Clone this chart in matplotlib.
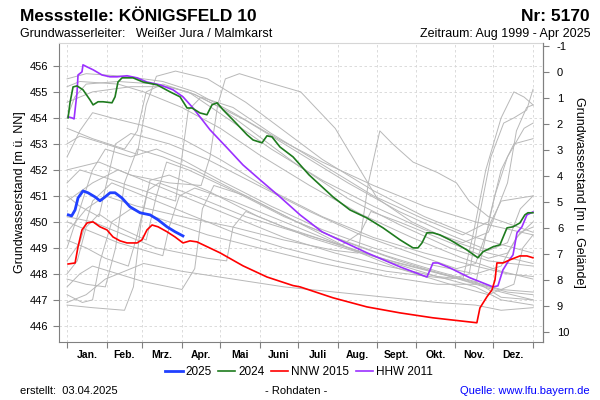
import matplotlib
matplotlib.use('Agg')
import matplotlib.pyplot as plt

plt.rcParams['font.family'] = ['Liberation Sans', 'DejaVu Sans']
plt.rcParams['axes.unicode_minus'] = False

# --- data (day of year, water level m u. NN) ---
months = ['Jan.', 'Feb.', 'Mrz.', 'Apr.', 'Mai', 'Juni', 'Juli', 'Aug.', 'Sept.', 'Okt.', 'Nov.', 'Dez.']
month_start = [0, 31, 59, 90, 120, 151, 181, 212, 243, 273, 304, 334, 365]
ground = 455.77  # Gelaendehoehe
level_ticks = [446, 447, 448, 449, 450, 451, 452, 453, 454, 455, 456]
depth_ticks = [-1, 0, 1, 2, 3, 4, 5, 6, 7, 8, 9, 10]

day_2025 = [1, 3.6, 6.3, 8.6, 12.5, 16.4, 21.9, 25.8, 29.8, 33.7, 37.6, 43, 49.3, 57.2, 65, 71.3, 78.3, 84.6, 90.8]
lev_2025 = [450.27, 450.23, 450.46, 450.92, 451.19, 451.12, 450.96, 450.81, 450.96, 451.12, 451.12, 450.92,
            450.58, 450.35, 450.27, 450.08, 449.81, 449.62, 449.46]

day_2024 = [0.8, 2.3, 4.7, 7.8, 12.5, 18, 20.4, 24.3, 28.2, 35.2, 37.6, 39.9, 43.1, 51.7, 59.5, 70.5, 80.7, 88.5,
            94, 97.9, 104.1, 109.6, 113.5, 117.5, 122.2, 130, 141, 145.7, 152.7, 156.6, 160.5, 166.8, 177, 189.5,
            208.3, 221.6, 234.9, 247.5, 260.8, 271, 274.9, 278, 281.9, 286.6, 292, 299.9, 313.2, 321.8, 325.8,
            333.6, 339.1, 344.6, 349.3, 354.7, 358.6, 361, 364.9]
lev_2024 = [454.0, 454.58, 455.19, 455.23, 455.08, 454.69, 454.5, 454.62, 454.62, 454.58, 454.81, 455.38, 455.54,
            455.54, 455.38, 455.27, 455.0, 454.81, 454.38, 454.38, 454.19, 454.12, 454.5, 454.58, 454.31, 453.92,
            453.35, 453.15, 453.04, 453.31, 453.27, 452.88, 452.5, 451.81, 450.96, 450.46, 450.15, 449.77, 449.31,
            449.0, 449.0, 449.19, 449.58, 449.58, 449.5, 449.31, 448.92, 448.62, 448.85, 449.04, 449.12, 449.77,
            449.81, 449.96, 450.27, 450.35, 450.35]

day_nnw = [0.8, 6.3, 8.6, 11.7, 15.7, 20.4, 25.8, 31.3, 36, 41.5, 47, 54.8, 58.7, 62.6, 66.6, 71.3, 78.3, 84.6,
           90.8, 96.3, 101.8, 106.5, 119.8, 137.8, 156.6, 177, 182.5, 208.3, 234.9, 260.8, 286.6, 321, 323.4,
           328.9, 332.8, 335.2, 336.7, 341.4, 346.9, 354.7, 360.2, 364.9]
lev_nnw = [448.38, 448.42, 449.04, 449.69, 449.96, 450.0, 449.81, 449.69, 449.42, 449.27, 449.19, 449.19, 449.31,
           449.69, 449.88, 449.81, 449.62, 449.42, 449.19, 449.27, 449.23, 449.12, 448.81, 448.31, 447.88, 447.55,
           447.5, 447.08, 446.73, 446.5, 446.31, 446.12, 446.69, 447.12, 447.38, 447.77, 448.42, 448.42, 448.54,
           448.69, 448.69, 448.62]

day_hhw = [0.8, 3.9, 5.5, 7.8, 8.6, 11.7, 12.5, 15.7, 20.4, 27.4, 33.7, 39.2, 47, 54.8, 62.6, 72.8, 83, 90.8,
           98.7, 112, 125.3, 137.8, 151.1, 166.8, 182.5, 199.7, 208.3, 234.9, 260.8, 281.9, 284.3, 286.6, 290.5,
           299.9, 315.6, 333.6, 337.5, 341.4, 345.3, 349.3, 352.4, 356.3, 360.2, 364.9]
lev_hhw = [454.04, 454.0, 453.96, 454.96, 455.65, 455.77, 456.04, 455.96, 455.85, 455.65, 455.58, 455.58, 455.62,
           455.54, 455.38, 455.27, 455.08, 454.81, 454.38, 453.54, 452.85, 452.19, 451.62, 450.96, 450.27, 449.62,
           449.42, 448.81, 448.27, 447.88, 448.15, 448.42, 448.42, 448.23, 447.85, 447.5, 447.54, 448.15, 448.46,
           448.73, 449.58, 449.81, 450.27, 450.38]

# other years 1999-2023 (gray)
g01 = [(0, 455.5), (15, 455.7), (45, 455.6), (75, 455.4), (100, 455.0), (130, 454.2), (165, 453.2), (200, 452.3),
       (240, 451.4), (280, 450.6), (320, 450.0), (365, 449.5)]
g02 = [(0, 454.0), (6, 454.8), (15, 455.3), (40, 455.4), (70, 455.3), (95, 455.0), (125, 454.0), (160, 452.8),
       (200, 451.6), (240, 450.6), (280, 449.7), (310, 449.2), (330, 449.6), (345, 451.5), (352, 453.5),
       (360, 454.4), (365, 454.5)]
g03 = [(0, 453.0), (10, 453.3), (30, 453.0), (55, 452.6), (62, 454.5), (70, 455.6), (85, 455.8), (110, 455.5),
       (140, 454.6), (170, 453.5), (200, 452.4), (240, 451.2), (280, 450.2), (320, 449.4), (365, 448.8)]
g04 = [(0, 452.0), (25, 452.3), (50, 451.8), (80, 451.5), (105, 451.4), (112, 452.5), (118, 454.5), (124, 455.5),
       (135, 455.7), (155, 455.4), (183, 455.0), (210, 453.6), (243, 450.9), (270, 450.0), (300, 449.3),
       (330, 448.8), (365, 448.4)]
g05 = [(0, 449.6), (15, 450.5), (30, 451.0), (55, 450.6), (90, 450.2), (130, 449.8), (170, 449.3), (210, 448.9),
       (228, 448.8), (236, 451.5), (245, 453.5), (255, 453.0), (271, 452.3), (290, 451.9), (305, 451.5),
       (315, 450.8), (330, 450.2), (365, 449.6)]
g06 = [(0, 450.8), (20, 451.5), (40, 452.0), (60, 451.6), (90, 451.0), (130, 450.2), (170, 449.4), (210, 448.8),
       (250, 448.3), (290, 447.9), (310, 447.8), (318, 449.5), (328, 452.0), (340, 454.0), (350, 455.0),
       (358, 454.8), (365, 454.5)]
g07 = [(0, 448.5), (10, 449.2), (20, 450.8), (35, 451.5), (60, 451.0), (90, 450.4), (130, 449.6), (170, 449.0),
       (210, 448.5), (250, 448.1), (300, 447.8), (315, 448.0), (322, 450.0), (332, 452.5), (342, 453.8),
       (350, 454.0), (360, 454.3), (365, 455.1)]
g08 = [(0, 447.2), (12, 446.9), (20, 447.0), (26, 448.5), (35, 450.0), (50, 450.5), (80, 450.0), (110, 449.5),
       (150, 449.0), (200, 448.4), (250, 447.9), (290, 447.6), (320, 447.6), (326, 449.0), (335, 451.0),
       (345, 452.5), (358, 453.6), (365, 453.8)]
g09 = [(0, 446.8), (20, 446.7), (45, 446.6), (52, 447.5), (58, 450.0), (65, 451.6), (80, 451.8), (110, 451.2),
       (150, 450.2), (190, 449.4), (230, 448.8), (270, 448.3), (310, 447.8), (340, 447.4), (365, 447.3)]
g10 = [(0, 447.8), (15, 447.6), (30, 447.5), (38, 449.0), (45, 451.5), (55, 452.8), (75, 452.5), (100, 452.0),
       (140, 451.0), (180, 450.0), (220, 449.2), (260, 448.5), (300, 447.9), (340, 447.3), (365, 447.0)]
g11 = [(0, 449.0), (10, 450.5), (20, 452.0), (30, 452.8), (50, 452.5), (70, 452.8), (90, 452.4), (120, 451.6),
       (160, 450.6), (200, 449.7), (240, 449.0), (280, 448.4), (320, 448.0), (340, 448.3), (352, 449.4),
       (365, 450.0)]
g12 = [(0, 452.5), (10, 453.5), (20, 454.2), (35, 454.0), (60, 453.7), (90, 453.2), (120, 452.4), (160, 451.2),
       (200, 450.2), (240, 449.4), (280, 448.8), (320, 448.3), (345, 448.0), (365, 447.9)]
g13 = [(0, 451.5), (10, 452.0), (30, 451.7), (60, 451.2), (85, 450.8), (90, 452.5), (95, 454.3), (105, 454.8),
       (130, 454.4), (160, 453.4), (200, 452.2), (240, 451.0), (280, 450.1), (310, 449.5), (330, 450.0),
       (340, 452.0), (350, 453.0), (365, 453.2)]
g14 = [(0, 448.0), (8, 448.5), (15, 449.8), (25, 450.3), (40, 449.8), (62, 449.3), (70, 451.0), (78, 452.3),
       (95, 452.0), (130, 451.2), (170, 450.2), (210, 449.4), (250, 448.7), (290, 448.1), (320, 447.7),
       (340, 447.1), (365, 447.0)]
g15 = [(0, 450.2), (20, 450.0), (45, 449.5), (70, 449.0), (110, 448.6), (125, 448.5), (130, 449.8), (140, 450.4),
       (170, 449.8), (220, 449.0), (260, 448.4), (300, 447.9), (330, 447.5), (345, 447.3), (365, 447.2)]
g16 = [(0, 454.6), (20, 455.0), (50, 455.2), (80, 455.2), (100, 454.9), (120, 454.4), (150, 453.3), (180, 452.2),
       (220, 450.9), (260, 449.9), (300, 449.0), (330, 448.5), (365, 448.3)]
g17 = [(0, 449.3), (15, 449.0), (30, 448.6), (48, 448.3), (55, 449.5), (63, 451.2), (72, 451.5), (100, 451.0),
       (140, 450.2), (180, 449.6), (215, 449.1), (230, 449.6), (238, 450.4), (260, 450.0), (300, 449.2),
       (330, 448.6), (345, 448.8), (355, 449.6), (365, 449.8)]
g18 = [(0, 446.9), (15, 447.2), (30, 447.8), (60, 448.4), (90, 448.1), (130, 447.8), (170, 447.5), (210, 447.3),
       (250, 447.1), (290, 446.9), (320, 446.8), (340, 446.6), (365, 446.7)]
g19 = [(0, 453.6), (20, 453.2), (45, 452.8), (55, 453.5), (62, 455.0), (75, 455.3), (100, 454.9), (140, 453.9),
       (180, 452.7), (220, 451.5), (260, 450.4), (300, 449.5), (330, 448.9), (345, 449.2), (355, 450.5),
       (365, 451.0)]
g20 = [(0, 451.0), (10, 450.6), (25, 450.2), (31, 451.5), (38, 453.0), (50, 453.4), (80, 453.0), (110, 452.4),
       (150, 451.4), (190, 450.4), (230, 449.5), (270, 448.8), (305, 448.2), (320, 448.4), (330, 449.8),
       (340, 450.8), (365, 451.0)]
g21 = [(0, 450.0), (20, 449.6), (40, 449.2), (75, 448.7), (80, 449.8), (88, 451.0), (100, 451.3), (130, 450.8),
       (170, 450.0), (210, 449.2), (250, 448.5), (290, 447.9), (320, 447.5), (340, 447.0), (365, 446.8)]
g22 = [(0, 455.2), (10, 455.4), (40, 455.3), (60, 455.0), (90, 454.4), (120, 453.6), (150, 452.6), (190, 451.4),
       (230, 450.3), (270, 449.4), (310, 448.6), (340, 448.1), (365, 447.8)]
g23 = [(0, 447.5), (10, 448.0), (20, 448.3), (40, 448.0), (60, 447.7), (90, 447.4), (100, 448.2), (106, 450.5),
       (115, 451.4), (140, 451.0), (180, 450.0), (220, 449.0), (260, 448.2), (300, 447.6), (330, 447.2),
       (350, 447.6), (357, 449.0), (365, 449.5)]
gray_years = [g01, g02, g03, g04, g05, g06, g07, g08, g09, g10, g11, g12, g13, g14, g15, g16, g17, g18,
              g19, g20, g21, g22, g23]

# --- figure ---
fig = plt.figure(figsize=(6, 4), dpi=100)
ax = fig.add_axes([59 / 600, 1 - 342 / 400, 484 / 600, 299 / 400])

for g in gray_years:
    ax.plot([p[0] for p in g], [p[1] for p in g], color='#b8b8b8', lw=0.7)

ax.plot(day_hhw, lev_hhw, color='#9b30ff', lw=1.2, label='HHW 2011')
ax.plot(day_nnw, lev_nnw, color='#ff0000', lw=1.2, label='NNW 2015')
ax.plot(day_2024, lev_2024, color='#1e7b1e', lw=1.2, label='2024')
ax.plot(day_2025, lev_2025, color='#2040ff', lw=2.0, label='2025')

ylo, yhi = 445.38, 456.88
ax.set_xlim(-6.3, 372.8)
ax.set_ylim(ylo, yhi)
ax.set_yticks(level_ticks)
ax.set_xticks(month_start)
ax.set_xticklabels([])
mids = [(month_start[i] + month_start[i + 1]) / 2 for i in range(12)]
ax.set_xticks(mids, minor=True)
ax.set_xticklabels(months, minor=True, fontsize=7.5, fontweight='bold')
ax.tick_params(axis='x', which='minor', length=0, pad=6)
ax.tick_params(axis='both', which='major', direction='out', length=4, color='#808080', labelsize=8)
ax.grid(True, which='major', linestyle=(0, (3, 3)), color='#d6d6d6', lw=0.6)
for s in ['left', 'bottom', 'right']:
    ax.spines[s].set_color('#808080')
ax.spines['top'].set_color('#d6d6d6')
ax.set_ylabel('Grundwasserstand [m ü. NN]', fontsize=9, labelpad=3)

ax2 = ax.twinx()
ax2.set_ylim(ground - ylo, ground - yhi)
ax2.set_yticks(depth_ticks)
ax2.tick_params(axis='y', direction='out', length=4, color='#808080', labelsize=8, pad=6)
for s in ['left', 'bottom', 'top']:
    ax2.spines[s].set_visible(False)
ax2.spines['right'].set_color('#808080')
ax2.set_ylabel('Grundwasserstand [m u. Gelände]', fontsize=9, rotation=270, labelpad=11)

# legend
h, l = ax.get_legend_handles_labels()
order = [3, 2, 1, 0]
fig.legend([h[i] for i in order], [l[i] for i in order], loc='center', bbox_to_anchor=(299 / 600, 1 - 372 / 400),
           ncol=4, frameon=False, fontsize=8.5, handlelength=1.45, handletextpad=0.25, columnspacing=0.55)

# header / footer texts
fig.text(20 / 600, 1 - 21 / 400, 'Messstelle: KÖNIGSFELD 10', fontsize=12.5, fontweight='bold', va='baseline')
fig.text(590 / 600, 1 - 21 / 400, 'Nr: 5170', fontsize=12.5, fontweight='bold', va='baseline', ha='right')
fig.text(20 / 600, 1 - 37 / 400, 'Grundwasserleiter:   Weißer Jura / Malmkarst', fontsize=9, va='baseline')
fig.text(590 / 600, 1 - 37 / 400, 'Zeitraum: Aug 1999 - Apr 2025', fontsize=9, va='baseline', ha='right')
fig.text(20 / 600, 1 - 394 / 400, 'erstellt:  03.04.2025', fontsize=8, va='baseline')
fig.text(296 / 600, 1 - 394 / 400, '- Rohdaten -', fontsize=8, va='baseline', ha='center')
fig.text(590 / 600, 1 - 394 / 400, 'Quelle: www.lfu.bayern.de', fontsize=8, va='baseline', ha='right', color='#0000ff')

fig.savefig('out.png', dpi=100)
